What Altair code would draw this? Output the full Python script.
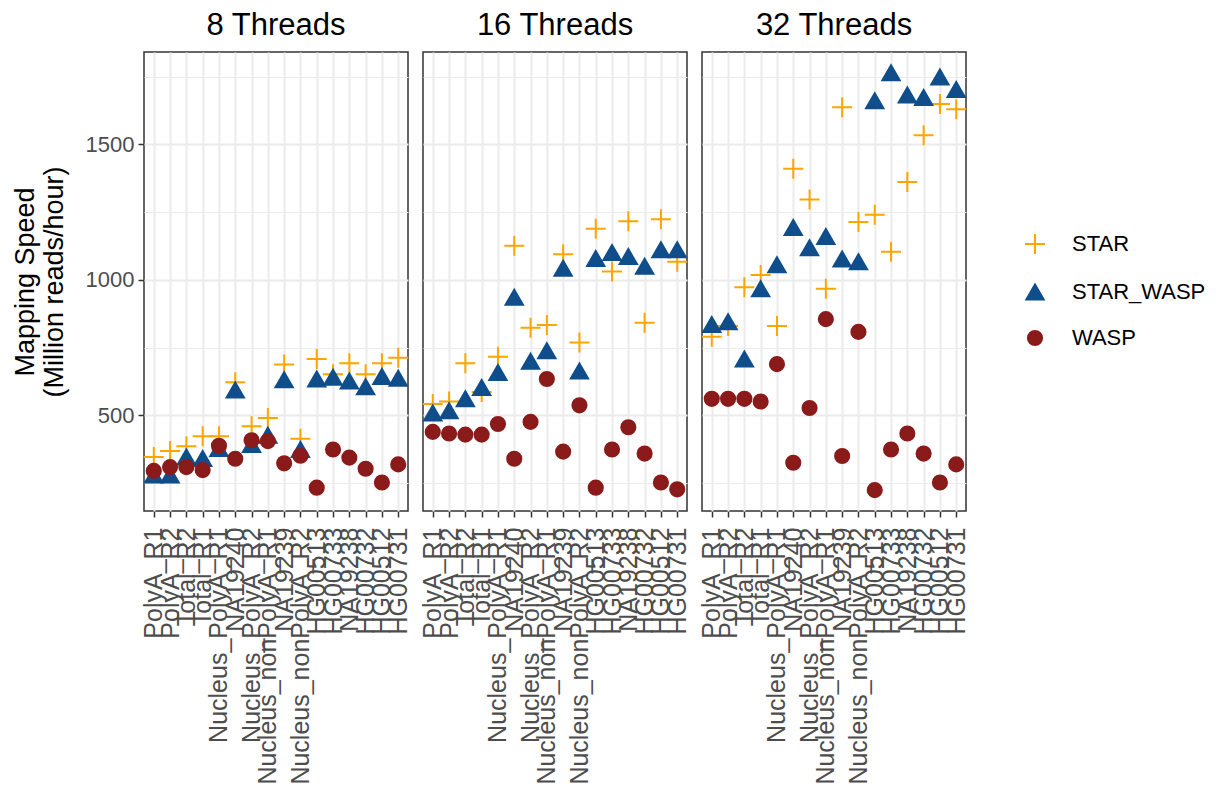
import altair as alt
import pandas as pd

samples = ["PolyA_R1", "PolyA_R2", "Total_R2", "Total_R1", "Nucleus_PolyA_R1", "NA19240",
           "Nucleus_PolyA_R2", "Nucleus_nonPolyA_R1", "NA19239", "Nucleus_nonPolyA_R2",
           "HG00513", "HG00733", "NA19238", "HG00732", "HG00512", "HG00731"]
threads = ["8 Threads", "16 Threads", "32 Threads"]
series = ["STAR", "STAR_WASP", "WASP"]

star_8 = [346, 368, 386, 423, 423, 622, 460, 490, 688, 414, 708, 652, 692, 652, 692, 713]
star_wasp_8 = [280, 280, 346, 341, 378, 594, 392, 427, 631, 374, 634, 641, 627, 606, 643, 637]
wasp_8 = [295, 309, 309, 298, 388, 340, 408, 405, 323, 351, 233, 374, 344, 303, 252, 319]

star_16 = [542, 551, 692, 586, 716, 1126, 823, 833, 1095, 769, 1189, 1031, 1216, 842, 1224, 1067]
star_wasp_16 = [509, 517, 561, 603, 658, 936, 700, 738, 1043, 664, 1079, 1101, 1086, 1050, 1111, 1111]
wasp_16 = [439, 433, 429, 429, 468, 340, 476, 634, 366, 537, 233, 374, 456, 359, 252, 227]

star_32 = [790, 830, 973, 1018, 830, 1410, 1297, 967, 1637, 1214, 1240, 1104, 1361, 1534, 1649, 1630]
star_wasp_32 = [835, 845, 708, 967, 1056, 1193, 1119, 1160, 1077, 1067, 1661, 1764, 1682, 1673, 1749, 1703]
wasp_32 = [561, 561, 561, 551, 689, 325, 527, 855, 350, 808, 224, 374, 433, 359, 252, 319]

y_ticks = [250, 500, 750, 1000, 1250, 1500, 1750]
colors = ["#FFA500", "#104E8B", "#8B1A1A"]
shapes = ["M-1,0L1,0M0,-1L0,1", "triangle-up", "circle"]
sizes = [400, 200, 110]

table = {
    "8 Threads": [star_8, star_wasp_8, wasp_8],
    "16 Threads": [star_16, star_wasp_16, wasp_16],
    "32 Threads": [star_32, star_wasp_32, wasp_32],
}
rows = []
for t in threads:
    for s, vals in zip(series, table[t]):
        for smp, v in zip(samples, vals):
            rows.append({"threads": t, "sample": smp, "series": s, "value": v})
df = pd.DataFrame(rows)

major = "datum.value % 500 === 0"

base = alt.Chart(df).mark_point(filled=True, opacity=1, strokeWidth=2).encode(
    x=alt.X("sample:N", sort=samples,
            scale=alt.Scale(type="point", padding=0.6),
            axis=alt.Axis(title=None, labelAngle=-90, labelFontSize=25, labelColor="#4D4D4D",
                          labelLimit=600, grid=True, gridColor="#EBEBEB", gridWidth=2,
                          tickColor="#333333", tickSize=6, tickWidth=1.5, domain=False,
                          labelPadding=10)),
    y=alt.Y("value:Q",
            scale=alt.Scale(domain=[147, 1841], nice=False, zero=False),
            axis=alt.Axis(title=["Mapping Speed", "(Million reads/hour)"], values=y_ticks,
                          format="d",
                          labelExpr="datum.value % 500 === 0 ? datum.label : ''",
                          labelFontSize=22, labelColor="#4D4D4D",
                          titleFontSize=27, titleFontWeight="normal", titleColor="black",
                          titlePadding=17,
                          grid=True, gridColor="#EBEBEB",
                          gridWidth={"condition": {"test": major, "value": 2}, "value": 1},
                          tickColor="#333333", tickSize=6, tickWidth=1.5,
                          tickOpacity={"condition": {"test": major, "value": 1}, "value": 0},
                          domain=False, labelPadding=4)),
    color=alt.Color("series:N", scale=alt.Scale(domain=series, range=colors), title=None),
    stroke=alt.Stroke("series:N", scale=alt.Scale(domain=series, range=colors), title=None),
    shape=alt.Shape("series:N", scale=alt.Scale(domain=series, range=shapes), title=None),
    size=alt.Size("series:N", scale=alt.Scale(domain=series, range=sizes), title=None),
).properties(width=264, height=459)

chart = base.facet(
    column=alt.Column("threads:N", sort=threads,
                      header=alt.Header(title=None, labelFontSize=31, labelColor="black",
                                        labelPadding=10)),
    spacing=15,
    bounds="flush",
).configure(
    font="Liberation Sans",
    padding={"left": 11, "top": 10, "right": 10, "bottom": 5},
).configure_view(
    stroke="#333333", strokeWidth=1.5
).configure_legend(
    orient="none", legendX=880, legendY=181,
    labelFontSize=22, labelColor="black", rowPadding=22, symbolStrokeWidth=2,
    labelOffset=26,
)

chart.save("out.html", embed_options={"renderer": "svg", "actions": False})
